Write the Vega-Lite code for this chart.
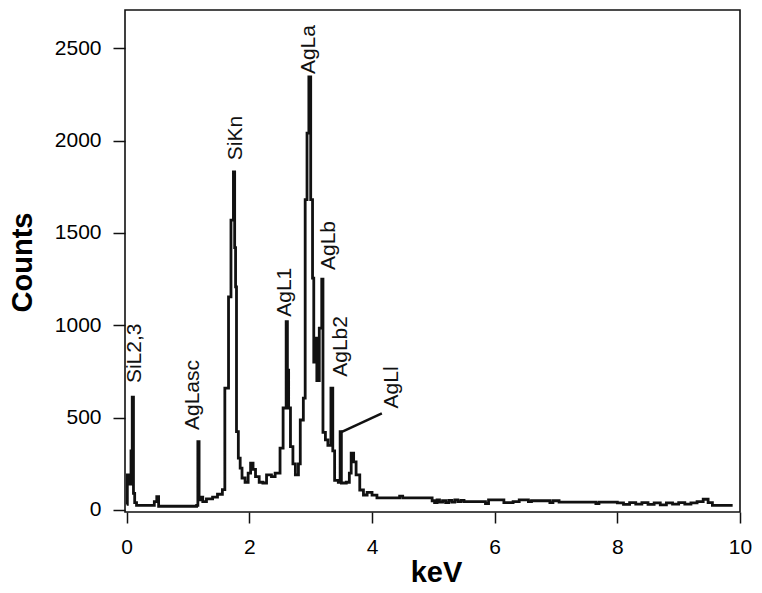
{
  "$schema": "https://vega.github.io/schema/vega-lite/v6.json",
  "width": 615,
  "height": 502,
  "autosize": {"type": "none"},
  "padding": {"left": 125, "top": 10, "right": 22, "bottom": 81},
  "background": "white",
  "config": {
    "view": {"stroke": "#111", "strokeWidth": 1.6},
    "font": "Liberation Sans"
  },
  "datasets": {
    "spectrum": [
      {"keV": 0.0, "counts": 30}, {"keV": 0.01, "counts": 190}, {"keV": 0.04, "counts": 140},
      {"keV": 0.07, "counts": 320}, {"keV": 0.09, "counts": 611}, {"keV": 0.11, "counts": 90},
      {"keV": 0.13, "counts": 40}, {"keV": 0.16, "counts": 25}, {"keV": 0.45, "counts": 45},
      {"keV": 0.49, "counts": 72}, {"keV": 0.52, "counts": 20}, {"keV": 1.14, "counts": 25},
      {"keV": 1.16, "counts": 370}, {"keV": 1.18, "counts": 55}, {"keV": 1.21, "counts": 70},
      {"keV": 1.24, "counts": 45}, {"keV": 1.3, "counts": 60}, {"keV": 1.4, "counts": 70},
      {"keV": 1.48, "counts": 85}, {"keV": 1.56, "counts": 110}, {"keV": 1.6, "counts": 660},
      {"keV": 1.66, "counts": 1154}, {"keV": 1.7, "counts": 1569}, {"keV": 1.74, "counts": 1831},
      {"keV": 1.76, "counts": 1420}, {"keV": 1.775, "counts": 1208}, {"keV": 1.79, "counts": 424},
      {"keV": 1.82, "counts": 281}, {"keV": 1.85, "counts": 227}, {"keV": 1.88, "counts": 173},
      {"keV": 1.93, "counts": 150}, {"keV": 1.98, "counts": 200}, {"keV": 2.02, "counts": 254},
      {"keV": 2.06, "counts": 220}, {"keV": 2.1, "counts": 180}, {"keV": 2.16, "counts": 150},
      {"keV": 2.22, "counts": 146}, {"keV": 2.28, "counts": 190}, {"keV": 2.36, "counts": 180},
      {"keV": 2.42, "counts": 200}, {"keV": 2.5, "counts": 335}, {"keV": 2.55, "counts": 552},
      {"keV": 2.6, "counts": 1019}, {"keV": 2.62, "counts": 757}, {"keV": 2.64, "counts": 552},
      {"keV": 2.67, "counts": 343}, {"keV": 2.71, "counts": 250}, {"keV": 2.75, "counts": 190},
      {"keV": 2.8, "counts": 250}, {"keV": 2.83, "counts": 487}, {"keV": 2.88, "counts": 606},
      {"keV": 2.91, "counts": 1680}, {"keV": 2.94, "counts": 2040}, {"keV": 2.97, "counts": 2345},
      {"keV": 3.0, "counts": 1680}, {"keV": 3.03, "counts": 1255}, {"keV": 3.05, "counts": 800},
      {"keV": 3.07, "counts": 930}, {"keV": 3.1, "counts": 700}, {"keV": 3.14, "counts": 985},
      {"keV": 3.18, "counts": 1250}, {"keV": 3.2, "counts": 420}, {"keV": 3.24, "counts": 380},
      {"keV": 3.28, "counts": 350}, {"keV": 3.33, "counts": 660}, {"keV": 3.36, "counts": 320},
      {"keV": 3.39, "counts": 160}, {"keV": 3.45, "counts": 150}, {"keV": 3.48, "counts": 424},
      {"keV": 3.5, "counts": 146}, {"keV": 3.58, "counts": 150}, {"keV": 3.63, "counts": 200},
      {"keV": 3.66, "counts": 308}, {"keV": 3.7, "counts": 260}, {"keV": 3.74, "counts": 190},
      {"keV": 3.8, "counts": 108}, {"keV": 3.86, "counts": 81}, {"keV": 3.92, "counts": 95},
      {"keV": 4.0, "counts": 80}, {"keV": 4.08, "counts": 66}, {"keV": 4.45, "counts": 75},
      {"keV": 4.5, "counts": 66}, {"keV": 4.98, "counts": 50}, {"keV": 5.02, "counts": 40},
      {"keV": 5.06, "counts": 55}, {"keV": 5.1, "counts": 42}, {"keV": 5.15, "counts": 50},
      {"keV": 5.2, "counts": 40}, {"keV": 5.25, "counts": 52}, {"keV": 5.3, "counts": 42},
      {"keV": 5.35, "counts": 55}, {"keV": 5.4, "counts": 45}, {"keV": 5.45, "counts": 52},
      {"keV": 5.5, "counts": 45}, {"keV": 5.8, "counts": 45}, {"keV": 5.85, "counts": 35},
      {"keV": 5.9, "counts": 55}, {"keV": 6.1, "counts": 55}, {"keV": 6.15, "counts": 40},
      {"keV": 6.3, "counts": 45}, {"keV": 6.4, "counts": 55}, {"keV": 6.55, "counts": 45},
      {"keV": 6.6, "counts": 50}, {"keV": 6.9, "counts": 40}, {"keV": 6.95, "counts": 50},
      {"keV": 7.05, "counts": 42}, {"keV": 7.6, "counts": 42}, {"keV": 7.65, "counts": 35},
      {"keV": 7.7, "counts": 42}, {"keV": 8.0, "counts": 38}, {"keV": 8.1, "counts": 30},
      {"keV": 8.2, "counts": 40}, {"keV": 8.3, "counts": 32}, {"keV": 8.4, "counts": 40},
      {"keV": 8.5, "counts": 30}, {"keV": 8.6, "counts": 38}, {"keV": 8.7, "counts": 28},
      {"keV": 8.8, "counts": 38}, {"keV": 8.9, "counts": 32}, {"keV": 9.0, "counts": 40},
      {"keV": 9.1, "counts": 32}, {"keV": 9.2, "counts": 38}, {"keV": 9.3, "counts": 45},
      {"keV": 9.4, "counts": 58}, {"keV": 9.48, "counts": 40}, {"keV": 9.55, "counts": 25},
      {"keV": 9.88, "counts": 25}
    ],
    "leader": [
      {"keV": 3.49, "counts": 420}, {"keV": 4.16, "counts": 523}
    ],
    "labels": [
      {"keV": 0.137, "counts": 687, "label": "SiL2,3"},
      {"keV": 1.08, "counts": 433, "label": "AgLasc"},
      {"keV": 1.78, "counts": 1894, "label": "SiKn"},
      {"keV": 2.97, "counts": 2360, "label": "AgLa"},
      {"keV": 2.58, "counts": 1046, "label": "AgL1"},
      {"keV": 3.3, "counts": 1299, "label": "AgLb"},
      {"keV": 3.49, "counts": 721, "label": "AgLb2"},
      {"keV": 4.33, "counts": 550, "label": "AgLl"}
    ]
  },
  "encoding": {
    "x": {
      "field": "keV", "type": "quantitative",
      "scale": {"domain": [-0.028, 10], "nice": false, "zero": false},
      "axis": {
        "values": [0, 2, 4, 6, 8, 10], "title": "keV", "grid": false, "domain": false,
        "tickSize": 11, "tickWidth": 1.5, "tickColor": "#111",
        "labelFontSize": 21, "labelColor": "black", "labelPadding": 13, "labelFlush": false,
        "labelOverlap": false, "labelFont": "Liberation Sans",
        "titleFontSize": 29, "titleFontWeight": "bold", "titleColor": "black",
        "titleFont": "Liberation Sans", "titleX": 311, "titleY": 69, "titleBaseline": "alphabetic"
      }
    },
    "y": {
      "field": "counts", "type": "quantitative",
      "scale": {"domain": [-11, 2707], "nice": false, "zero": false},
      "axis": {
        "values": [0, 500, 1000, 1500, 2000, 2500], "format": "d", "title": "Counts", "grid": false, "domain": false,
        "tickSize": 12, "tickWidth": 1.5, "tickColor": "#111",
        "labelFontSize": 21, "labelColor": "black", "labelPadding": 12, "labelOverlap": false,
        "labelFont": "Liberation Sans",
        "titleFontSize": 29, "titleFontWeight": "bold", "titleColor": "black",
        "titleFont": "Liberation Sans", "titleX": -94, "titleY": 252, "titleAngle": 270,
        "titleAlign": "center", "titleBaseline": "alphabetic"
      }
    }
  },
  "layer": [
    {
      "data": {"name": "spectrum"},
      "mark": {"type": "line", "interpolate": "step-after", "color": "#111", "strokeWidth": 2.8}
    },
    {
      "data": {"name": "leader"},
      "mark": {"type": "line", "color": "#111", "strokeWidth": 2.6}
    },
    {
      "data": {"name": "labels"},
      "mark": {"type": "text", "angle": 270, "align": "left", "baseline": "middle", "fontSize": 21, "font": "Liberation Sans", "color": "#111"},
      "encoding": {"text": {"field": "label", "type": "nominal"}}
    }
  ]
}
